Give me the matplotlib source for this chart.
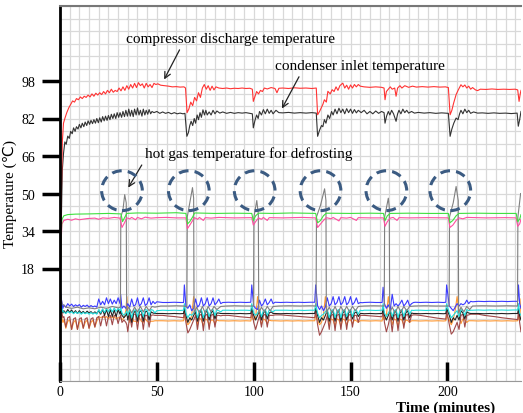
import numpy as np
import matplotlib.pyplot as plt
from matplotlib.patches import Ellipse

plt.rcParams['font.family'] = ['Liberation Serif', 'DejaVu Sans']

# compressor discharge temperature (time in minutes, temperature in C)
discharge = [(0, 8), (0.6, 45), (1.2, 72), (1.8, 80), (2.5, 82), (3.5, 84.5), (4.5, 86.5), (5.5, 88), (6.5, 89.5),
             (7.5, 89), (8.5, 90.5), (9.5, 90), (10.5, 91.2), (11.5, 90.5), (12.5, 91.5), (13.5, 91), (14.5, 92),
             (15.5, 91.2), (16.5, 92.5), (17.5, 91.5), (18.5, 92.8), (19.5, 92), (20.5, 93), (21.5, 92.2), (22.5, 93.5),
             (23.5, 92.5), (24.5, 94), (25.5, 93), (26.5, 94.5), (27.5, 93.2), (28.5, 94), (29.5, 93.5), (30.5, 95),
             (31.5, 93.8), (32.5, 95.5), (33.5, 94), (34.5, 96), (35.5, 94.5), (36.5, 96.5), (37.5, 95), (38.5, 97),
             (39.5, 95.2), (40.5, 97.3), (41.5, 96), (42.5, 96.8), (43.5, 95), (44.5, 97), (45.5, 95.5), (46.5, 96.5),
             (47.5, 95.2), (48.5, 97), (49.5, 96.5), (50.5, 96.8), (52, 96.2), (54, 96), (56, 95.8), (58, 95.5),
             (60, 95.6), (62, 95.4), (64, 95.5), (64.8, 95), (65.6, 84.5), (66.5, 86), (67.5, 89), (68.5, 87.5),
             (69.5, 91), (70.5, 89.5), (71.5, 93), (72.5, 91), (73.5, 95), (74.5, 96.5), (75.5, 94.5), (76.5, 96),
             (77.5, 94), (78.5, 95.8), (79.5, 94.2), (80.5, 95.5), (82, 95), (84, 94.8), (86, 95), (88, 94.7),
             (90, 94.9), (92, 94.8), (94, 95), (96, 94.8), (98, 94.9), (99.3, 94.5), (99.8, 89.3), (100.5, 91),
             (101.5, 93.5), (102.5, 92.5), (103.5, 94), (104.5, 93.5), (105.5, 95), (107, 94.6), (109, 95.2),
             (111, 94.8), (112, 93), (113, 94.9), (115, 95), (118, 94.8), (121, 95.1), (124, 94.9), (127, 95),
             (130, 94.8), (132.3, 95), (133, 83.6), (134, 85), (135.7, 88), (136.5, 90), (137.5, 89), (138.3, 93.6),
             (139.5, 92.5), (140.5, 94.3), (141.5, 93.5), (142.5, 95.5), (143.5, 94), (144.5, 96), (146, 97.1),
             (147, 95), (148, 96.2), (149, 94.5), (150, 96.3), (151, 95), (152, 96.5), (153, 95.5), (154, 96.5),
             (155, 95.8), (157, 95.5), (160, 95.3), (163, 95.5), (166, 95.3), (167.3, 95), (167.8, 90), (168.5, 93.5),
             (169.5, 94.5), (170.5, 95.5), (171.5, 94.5), (172.8, 95), (173.5, 91.5), (174.3, 95), (175.5, 96),
             (176.5, 95), (178, 96), (180, 95.3), (182, 95.8), (184, 95.4), (187, 95.6), (190, 95.4), (193, 95.6),
             (196, 95.4), (199, 95.5), (200.5, 95.2), (201.4, 83.6), (202.3, 85.5), (203.2, 88.5), (204.5, 92.2),
             (205.5, 94), (207, 96.4), (208, 95.5), (209, 96.3), (210, 95), (211, 95.8), (212, 94.5), (213, 95.2),
             (214.5, 94.2), (215.6, 93.9), (217, 94.5), (220, 94.4), (223, 94.6), (226, 94.4), (229, 94.5),
             (232, 94.4), (235, 94.5), (236.3, 94.2), (237, 89.3), (237.6, 92.5), (238, 94)]

# condenser inlet temperature
cond_inlet = [(0, 6), (0.6, 35), (1.2, 60), (1.8, 67), (2.5, 72), (3.2, 71), (4, 74.5), (4.8, 73.5), (5.5, 76.5),
              (6.3, 75.5), (7, 78), (7.8, 76.5), (8.5, 78.5), (9.3, 77.5), (10, 79.5), (10.8, 78), (11.5, 80),
              (12.3, 78.5), (13, 80.5), (13.8, 79), (14.5, 81), (15.3, 79.5), (16, 81.2), (16.8, 79.8), (17.5, 81.5),
              (18.3, 80), (19, 82), (19.8, 80.2), (20.5, 82.3), (21.3, 80.5), (22, 82.8), (22.8, 81), (23.5, 83),
              (24.3, 81.2), (25, 83.3), (25.8, 81.5), (26.5, 83.8), (27.3, 82), (28, 84), (28.8, 82), (29.5, 84.5),
              (30.3, 82.5), (31, 84.5), (31.8, 82.5), (32.5, 85), (33.3, 82.8), (34, 85.5), (34.8, 83), (35.5, 86),
              (36.3, 83), (37, 85.5), (37.8, 82.8), (38.5, 86), (39.3, 83.5), (40, 86.5), (40.8, 83.5), (41.5, 85.5),
              (42.3, 83), (43, 86), (43.8, 83.5), (44.5, 85.5), (45.3, 83.8), (46, 85.8), (46.8, 84), (47.5, 85),
              (48.5, 84.5), (50, 85), (51.5, 84.2), (53, 84.8), (54.5, 84.2), (56, 84.6), (57.5, 84), (59, 84.5),
              (60.5, 84), (62, 84.3), (63.5, 84), (64.5, 84.2), (65.5, 74.4), (66.3, 76), (67, 79), (67.7, 80.8),
              (68.5, 79), (69.3, 82), (70, 80), (70.8, 83.5), (71.5, 81.5), (72.3, 84.5), (73, 82.5), (73.8, 85.7),
              (74.6, 83.5), (75.3, 85.5), (76, 83.5), (77, 84.8), (78, 83.5), (79, 85.5), (80, 84), (81, 85.2),
              (82.5, 84.3), (84, 84.8), (86, 84.2), (88, 84.6), (90, 84.2), (92, 84.5), (94, 84.3), (96, 84.5),
              (98, 84.2), (99.3, 84), (99.8, 78), (100.6, 81), (101.5, 83.5), (102.3, 82), (103, 85), (104, 83.5),
              (105, 85.8), (106, 84), (107, 86), (108, 84.2), (109, 85.5), (110, 84), (111.5, 85.5), (113, 84.5),
              (115, 84.4), (118, 84.6), (121, 84.3), (124, 84.5), (127, 84.3), (130, 84.5), (132.3, 84.3),
              (133, 74.4), (134, 77), (135, 79), (135.7, 78.5), (136.5, 81.5), (137.3, 80), (138.3, 83.5), (139.2, 82),
              (140.2, 85), (141, 83.5), (142, 86), (143, 84), (144, 86.4), (145, 84.5), (146, 86), (147, 84),
              (148, 86.2), (149, 84.5), (150, 86), (151, 84.2), (152, 85.8), (153, 84.4), (154, 85.5), (155.5, 84.5),
              (157, 85.5), (158.5, 84), (160, 85), (161.5, 84), (163, 85.2), (164.5, 84.2), (166, 85), (167.3, 84.5),
              (167.8, 80), (168.6, 83), (169.5, 85), (170.3, 83.5), (171.2, 85.5), (172.2, 84), (173.5, 80.8),
              (174.3, 84), (175, 85.5), (176, 84), (177, 86), (178, 84.5), (179, 85.5), (180, 84.3), (181.5, 85),
              (183, 84.3), (185, 84.6), (188, 84.3), (191, 84.5), (194, 84.2), (197, 84.4), (200.5, 84.2),
              (201.4, 74.4), (202.3, 77.5), (203.3, 80), (204.5, 82.2), (205.5, 81.5), (206.3, 84), (207, 85.5),
              (208, 84), (209, 86), (210, 84.5), (211, 85.5), (212, 84.2), (213.5, 84.8), (215.6, 84.3), (218, 84.4),
              (221, 84.2), (224, 84.4), (227, 84.2), (230, 84.3), (233, 84.1), (236, 84.3), (236.6, 78.7),
              (237.3, 81.5), (238, 85)]

# two mid-level temperatures (~40 C)
green_line = [(0, 5), (0.5, 30), (1, 39), (2, 40.5), (4, 41), (8, 41.2), (15, 41.3), (25, 41.5), (31.5, 41.3),
              (32.3, 38), (33.2, 39.5), (34.5, 41.5), (40, 41.7), (50, 41.6), (60, 41.8), (65, 41.5), (65.8, 37),
              (67, 38), (68.5, 40), (69.5, 41.7), (80, 41.5), (90, 41.6), (99, 41.5), (99.8, 38.5), (101, 40.5),
              (102.5, 41.6), (110, 41.5), (120, 41.7), (132, 41.5), (133, 37.5), (134.5, 38.5), (136, 40.5),
              (137.5, 41.6), (150, 41.5), (160, 41.6), (167, 41.5), (167.8, 38.5), (169, 40.5), (170.5, 41.5),
              (180, 41.6), (190, 41.5), (200.5, 41.5), (201.3, 37.5), (202.8, 38.5), (204.5, 40.5), (206, 41.5),
              (215, 41.6), (225, 41.5), (235.5, 41.5), (236.3, 38), (237.3, 39), (238, 41)]

pink_line = [(0, 5), (0.5, 28), (1, 37), (2, 38.5), (4, 39), (6, 38.6), (8, 39.2), (10, 38.8), (14, 39.3),
             (18, 39.5), (20, 39), (22, 39.6), (25, 39.4), (28, 39.8), (31, 39.5), (32, 35.5), (33.3, 37.5),
             (34.5, 39.6), (36, 39.2), (37, 39.8), (39, 38.8), (40, 39.8), (42, 39.2), (44, 39.9), (47, 39.5),
             (50, 39.7), (55, 39.8), (60, 39.6), (65, 39.6), (65.8, 35), (67, 36.5), (68.5, 38.5), (69.5, 39.7),
             (71, 39), (72, 39.8), (74, 38.5), (75, 39.7), (78, 39.5), (82, 39.8), (90, 39.6), (99, 39.7),
             (99.8, 36.5), (101, 38), (102.5, 39.6), (104, 39), (105, 39.8), (107, 38.5), (108, 39.7), (115, 39.6),
             (125, 39.8), (132, 39.6), (133, 35.5), (134.5, 37), (136, 38.5), (137.5, 39.7), (140, 39.2),
             (141, 39.8), (144, 38.3), (145, 39.7), (148, 39.5), (150, 39.8), (153, 38.5), (154, 39.7), (160, 39.6),
             (167, 39.6), (167.8, 36), (169, 38), (170.5, 39.5), (172, 39.8), (174, 38.5), (175, 39.7), (180, 39.6),
             (190, 39.7), (200.5, 39.6), (201.3, 35.5), (202.8, 36.5), (204.5, 38.5), (206, 39.6), (208, 39.2),
             (210, 39.8), (220, 39.6), (230, 39.7), (235.5, 39.6), (236.3, 36), (237.3, 37), (238, 39)]

# hot gas temperature for defrosting
hot_gas = [(0, 9), (1, 3), (3, 1.5), (6, 1), (9, 1.5), (12, 0.8), (15, 1.2), (18, 0.8), (21, 1.5), (24, 1),
           (27, 1.8), (30, 1.2), (31.2, 1.5), (31.4, 40), (32.5, 43), (33.4, 49.5), (34.2, 46), (34.4, 0),
           (35.5, 1.5), (37, -1), (38.5, 1.5), (40, -0.5), (41.5, 1.8), (43, -0.5), (44.5, 1.8), (46, 0),
           (47.5, 1.8), (49, 1.5), (52, 2), (56, 2), (60, 2.1), (64, 2), (65.5, 1.5), (65.7, 40), (67, 46),
           (68.4, 52.5), (69, 48), (69.2, -1), (70.5, 1.5), (72, -1), (73.5, 1.8), (75, -1), (76.5, 1.8),
           (78, -0.5), (79.5, 1.8), (81, 0.5), (83, 1.8), (86, 2), (90, 2.1), (95, 2), (99.9, 2), (100.1, 40),
           (101.6, 47), (102.4, 41), (102.6, -1), (104, 1.5), (105.5, -0.5), (107, 1.8), (108.5, 0), (110, 1.8),
           (113, 2), (118, 2.1), (124, 2), (129, 2.1), (132.2, 2), (132.4, 40), (134.5, 45), (136.6, 52),
           (137.3, 47), (137.5, -1), (139, 1.5), (140.5, -1), (142, 1.8), (143.5, -1), (145, 1.8), (146.5, -0.5),
           (148, 1.8), (149.5, -0.5), (151, 1.8), (152.5, 0), (154, 1.8), (157, 2), (162, 2.1), (167.4, 2),
           (167.6, 40), (169.5, 48), (170, 44), (170.2, -1), (171.5, 1.5), (173, -1), (174.5, 1.8), (176, -0.5),
           (177.5, 1.8), (179, 0), (180.5, 1.8), (183, 2), (188, 2.1), (194, 2), (200.9, 2), (201.1, 40),
           (203, 46), (204.5, 53), (205.6, 47), (205.8, -1), (207, 1.5), (208.5, -0.5), (210, 1.8), (211.5, 0.5),
           (213, 2), (218, 2.1), (225, 2), (231, 2.1), (236.2, 2), (236.4, 40), (237.8, 50), (238, 50)]

# low-temperature cluster, shared time base
t_low = [0, 0.7, 1.5,
         2, 3, 4, 5, 6, 7, 8, 9, 10, 11, 12, 13, 14, 15, 16, 17, 18, 19, 20, 21, 22, 23, 24, 25, 26, 27, 28, 29, 30, 31,
         31.3, 32, 33, 34, 34.5,
         35, 36, 37, 38, 39, 40, 41, 42, 43, 44, 45, 46, 47, 48, 49, 50,
         53, 56, 59, 62, 63.8, 64.2,
         65, 66, 67, 68, 69,
         70, 71, 72, 73, 74, 75, 76, 77, 78, 79, 80, 81, 82, 83, 84,
         87, 90, 93, 96, 98.5, 99,
         100, 101, 102,
         103, 104, 105, 106, 107, 108, 109, 110, 111,
         114, 117, 120, 123, 126, 129, 131.5, 132,
         133, 134, 135, 136, 137,
         138, 139, 140, 141, 142, 143, 144, 145, 146, 147, 148, 149, 150, 151, 152, 153, 154, 155, 156, 157,
         160, 163, 166.3, 166.8,
         167.5, 168.5, 169.5,
         170.5, 171.5, 172.5, 173.5, 174.5, 175.5, 176.5, 177.5, 178.5, 179.5, 180.5, 181.5, 182.5, 183.5,
         186, 189, 192, 195, 198, 199.2, 199.6,
         201, 202, 203, 204, 205,
         206, 207, 208, 209, 210, 211, 212, 213,
         216, 219, 222, 225, 228, 231, 234, 236.3, 236.7,
         237.3, 238]

blue_line = [10, 5, 1,
             2.5, 1.5, 3, 2, 2.8, 1.8, 2.5, 2, 2.6, 1.5, 2.3, 1.8, 2.4, 1.5, 2.2, 1.6, 2, 1.5, 5, 2.5,
             4, 2.5, 5.5, 3, 5, 2.8, 4.5, 3, 5.5, 3,
             7, 1, 2, 1, 2,
             3, 1.5, 5, 2, 2.5, 5.5, 2, 3, 5.5, 2.2, 3, 5.5, 2.5, 4, 3, 3.8,
             3.5, 3.5, 3.6, 3.5, 3.5, 11,
             2, 1, 2.5, 0, 1,
             5, 1.5, 2.5, 5.5, 2, 3, 5.5, 2, 3, 5.5, 2.5, 3.5, 5, 3, 3.5,
             3.6, 3.5, 3.6, 3.5, 3.6, 11,
             2, 1, 0.5,
             4.5, 2, 3, 5, 2.5, 3.5, 5, 3, 3.6,
             3.5, 3.6, 3.5, 3.6, 3.5, 3.6, 3.6, 11,
             2, 0.5, 2, 0, 1.5,
             5.5, 2, 3, 6, 2.5, 3.5, 6, 2.5, 3.5, 6, 2.5, 3.5, 6, 2.5, 3.5, 5.5, 3, 3.5, 3.4, 3.5,
             3.6, 3.5, 3.5, 10,
             3, 1, 2.5,
             0.5, 7, 2, 3, 2, 3, 4.5, 2, 3, 4.5, 2, 3, 3.5, 3.6,
             3.5, 3.6, 3.5, 3.6, 3.5, 3.6, 11,
             2, 1, 0, 1.5, 3,
             2, 3, 2.5, 3, 4.5, 3, 4, 3.8,
             4, 3.9, 4, 3.9, 4, 3.9, 4, 4, 11,
             3, 1]

cyan_line = [9, 3, -0.5,
             -0.5, -1.2, -0.3, -1, -0.4, -1.3, -0.5, -1.2, -0.6, -1.5, -0.7, -1.3, -0.8, -1.5, -0.8, -1.4, -0.9,
             -1.5, 0.5, -1, 0.8, -0.8, 1, -0.5, 1, -0.5, 1.2, -0.3, 1, 0,
             1.5, -1, -2, -1, 0,
             -2, 0.5, -3, 0, 0.5, -2.5, 0.5, 0, -2.5, 0.5, 0.2, -2, 0.5, 0.2, -1, 0,
             0.2, 0.1, 0.2, 0.1, 0.2, 3,
             -1, -3, -1.5, -2, -1,
             0.5, -3, 0, 0.5, -3, 0, 0.5, -2.5, 0.2, 0.5, -2, 0.3, 0, -0.5, 0.2,
             0.2, 0.1, 0.2, 0.2, 0.1, 3,
             -1, -2, -1,
             0.5, -2.5, 0, 0.5, -2, 0.3, 0, -0.5, 0.2,
             0.2, 0.2, 0.1, 0.2, 0.1, 0.2, 0.2, 3,
             -1, -3, -2, -1.5, -0.5,
             0.5, -3, 0, 0.5, -3, 0, 0.5, -3, 0, 0.5, -2.5, 0, 0.5, -2.5, 0.2, 0.3, -1.5, 0.2, 0, 0.2,
             0.2, 0.1, 0.2, 3,
             -1, -2.5, -1,
             0.5, -2.5, 0, 0.5, -3, 0, 0.5, -2.5, 0.2, 0.5, -1.5, 0.2, 0.1, 0.2,
             0.2, 0.1, 0.2, 0.1, 0.2, 0.2, 3,
             -1, -3, -2, -1, 0,
             -2.5, 0.5, 0, -2, 0.5, 0, 0.2, 0.2,
             0.3, 0.2, 0.3, 0.2, 0.3, 0.2, 0.3, 0.3, 3,
             -1, -2]

black_line = [8, 2, -1,
              0, -1, 0.5, -0.8, 0.3, -1, 0, -1.2, 0, -1, -0.3, -1.2, -0.2, -1, -0.4, -1.3, -0.5, -1.2, 0, -1.5,
              0.5, -2, 0.5, -2.5, 0.5, -2.5, 0.3, -2.5, 0.5, -1.5,
              0, -2, -3, -2, -1,
              -4, 0, -5, -1, 0, -4.5, -0.5, 0, -4.5, -0.5, -0.2, -4, -0.5, -1, -1.2, -1.2,
              -1.2, -1.3, -1.2, -1.3, -1.2, 1,
              -2, -5, -3, -4, -2,
              -0.5, -4.5, -1, 0, -4.5, -1, 0, -4, -1, 0, -3.5, -1, -1, -1.2, -1.2,
              -1.2, -1.3, -1.2, -1.3, -1.2, 1,
              -2, -4, -2,
              0, -4, -1, 0, -3.5, -1, -0.5, -1.2, -1.2,
              -1.3, -1.2, -1.3, -1.2, -1.3, -1.2, -1.2, 1,
              -2, -5, -3, -4, -2,
              0, -4.5, -1, 0, -4.5, -1, 0, -4.5, -1, 0, -4, -1, 0, -3.5, -1, -0.5, -2.5, -1.2, -1.2, -1.3,
              -1.2, -1.3, -1.2, 1,
              -2, -4, -2,
              0, -4, -1, 0, -4.5, -1, 0, -4, -1, 0, -3, -1, -1.2, -1.2,
              -1.3, -1.2, -1.3, -1.2, -1.3, -1.2, 1,
              -2, -5, -3, -4, -2,
              -4, 0, -1, -3.5, -0.5, -1, -1.2, -1.2,
              -1.2, -1.3, -1.2, -1.3, -1.2, -1.3, -1.2, -1.2, 1,
              -2, -4]

brown_line = [7, 0, -3,
              -2.5, -7, -3, -2.5, -8, -3.5, -3, -8, -3.5, -3, -7.5, -3.5, -3, -7.5, -3.5, -3, -7, -3, -2.5, -6.5,
              -2.5, -2, -6.5, -2.5, -2, -6, -2, -2, -5.5, -2.5,
              -2, -5, -4, -5, -6,
              -9, -2, -7, -1.5, -1.5, -8, -2, -1.5, -8, -2, -2, -7, -2, -1.8, -2, -2,
              -2, -2.3, -2.5, -2.8, -3, 0,
              -5, -9.5, -8, -6, -4,
              -2, -8, -2, -1.5, -8.5, -2, -1.5, -8, -2, -1.5, -7, -2, -2, -2.2, -2,
              -2, -2.3, -2.6, -2.8, -3, 0,
              -5, -8, -5,
              -2, -7, -2, -1.5, -7, -2, -2, -2, -1.8,
              -1.8, -2, -2.2, -2.4, -2.6, -2.8, -3, 0,
              -6, -10.5, -9, -7, -5,
              -2, -8, -2, -1.5, -8.5, -2, -1.5, -8, -2, -1.5, -8, -2, -1.5, -7, -2, -2, -5, -2, -2, -2,
              -2.2, -2.4, -2.6, 0,
              -5, -9, -6,
              -2, -9, -2, -1.5, -8.5, -2, -1.5, -7.5, -2, -1.5, -5, -2, -1.8, -1.8,
              -2, -2.4, -2.8, -3.2, -3.5, -3.6, 0,
              -6, -10, -9, -7, -5,
              -8, -2, -1.5, -7, -2, -1.8, -1.5, -1.5,
              -1.5, -2, -2.3, -2.6, -3, -3.3, -3.6, -3.8, 0,
              -5, -9]

orange_line = [6, -2, -5,
               -4, -7.5, -4.5, -4, -8, -5, -4, -8, -5, -4, -7.5, -5, -4, -7.5, -5, -4, -7, -4.5, -2.5, -3,
               -2.5, -3, -2.5, -3.5, -2.5, -3, -2.5, -3.5, -3, -3,
               -3, -4, -3, 0, 6,
               -1, -5, -2, -4.5, -4.5, -5, -3, -4.5, -5, -3.5, -4.5, -5, -4.5, -4.5, -4.3, -4.3,
               -4.3, -4.4, -4.3, -4.4, -4.3, -2,
               -4, -6, -5, -2, 6,
               -1, -6, -3, -4, -6.5, -3.5, -4, -6, -4, -4, -5.5, -4, -4.3, -4.3, -4.3,
               -4.4, -4.3, -4.4, -4.3, -4.4, -2,
               -4, -3, 6,
               -1, -6, -3.5, -4, -5.5, -4, -4.3, -4.3, -4.3,
               -4.4, -4.3, -4.4, -4.3, -4.4, -4.3, -4.3, -2,
               -4, -6, -5, -2, 6,
               -1, -6, -3.5, -4, -6.5, -3.5, -4, -6.5, -3.5, -4, -6, -4, -4, -5.5, -4, -4.3, -5, -4.3, -4.3, -4.3,
               -4.4, -4.3, -4.4, -2,
               -4, -2, 6,
               -1, -6, -3.5, -4, -6.5, -3.5, -4, -6, -4, -4.2, -5, -4.3, -4.3, -4.3,
               -4.4, -4.3, -4.4, -4.3, -4.4, -4.3, -2,
               -4, -6, -4, 0, 6,
               -1, -5.5, -3.5, -4, -5, -4.3, -4.3, -4.3,
               -4.4, -4.3, -4.4, -4.3, -4.4, -4.3, -4.4, -4.3, -2,
               -4, 5]

# defrost periods marked with dashed circles (minutes)
defrost_marks = [32, 66.5, 100.5, 134.5, 168.5, 201.5]

for name, s in [('blue', blue_line), ('cyan', cyan_line), ('black', black_line),
                ('brown', brown_line), ('orange', orange_line)]:
    assert len(s) == len(t_low), (name, len(s), len(t_low))

fig = plt.figure(figsize=(5.23, 4.14), dpi=100)
ax = fig.add_axes([60 / 523, 32 / 414, 461 / 523, 375 / 414])

# background grid: horizontal lines drawn low so the bottom tick marks stay on top
grid_col = '#d9d9d9'
for y in np.linspace(-30, 130, 31):
    ax.axhline(y, color=grid_col, lw=0.9, zorder=0.1)
ax.set_xticks(np.arange(0, 240, 5), minor=True)
ax.xaxis.grid(True, which='both', color=grid_col, lw=0.9)
ax.set_axisbelow(True)

lw = 0.8
for vals, col in [(orange_line, '#ff9933'), (brown_line, '#a04848'), (black_line, '#222222'),
                  (cyan_line, '#22dddd'), (blue_line, '#3a3aff')]:
    ax.plot(t_low, vals, color=col, lw=lw)
ax.plot(*zip(*hot_gas), color='#808080', lw=lw)
ax.plot(*zip(*pink_line), color='#ff4fa0', lw=lw)
ax.plot(*zip(*green_line), color='#3ee03e', lw=lw)
ax.plot(*zip(*cond_inlet), color='#333333', lw=lw)
ax.plot(*zip(*discharge), color='#ff3333', lw=lw)

for t in defrost_marks:
    ax.add_patch(Ellipse((t, 51.2), 21, 17, fill=False, ec='#3b5b82', lw=2.2,
                         ls=(0, (3.2, 2)), zorder=5))

ax.set_xlim(0, 238)
ax.set_ylim(-30, 130)
ax.set_xticks([0, 50, 100, 150, 200])
ax.set_yticks([18, 34, 50, 66, 82, 98])
ax.tick_params(axis='x', which='major', direction='in', length=14, width=2.5, pad=3, labelsize=10)
ax.tick_params(axis='y', which='major', direction='out', length=13, width=2.5, pad=5, labelsize=10)
ax.tick_params(which='minor', length=0)
ax.spines['left'].set_linewidth(2)
ax.spines['top'].set_color('#777777')
ax.spines['top'].set_linewidth(1.5)
ax.spines['bottom'].set_color('#999999')
ax.spines['right'].set_visible(False)

ax.set_ylabel('Temperature (\u2103)', fontsize=11)
ax.yaxis.set_label_coords(-0.093, 0.5)
fig.text(446 / 523, 1 - 408.5 / 414, 'Time (minutes)', fontsize=11, fontweight='bold',
         ha='center', va='center')

arrow = dict(arrowstyle='->', color='#222222', lw=0.9)
ax.annotate('compressor discharge temperature', xy=(53.1, 97.6), xytext=(34, 116.3),
            fontsize=11, va='center', arrowprops=dict(arrow, relpos=(0.27, 0)))
ax.annotate('condenser inlet temperature', xy=(113.9, 85.2), xytext=(110.8, 104.8),
            fontsize=11, va='center', arrowprops=dict(arrow, relpos=(0.16, 0)))
ax.annotate('hot gas temperature for defrosting', xy=(34.5, 51.5), xytext=(43.8, 67.3),
            fontsize=11, va='center', arrowprops=dict(arrow, relpos=(0, 0)))

fig.savefig('out.png', dpi=100)
